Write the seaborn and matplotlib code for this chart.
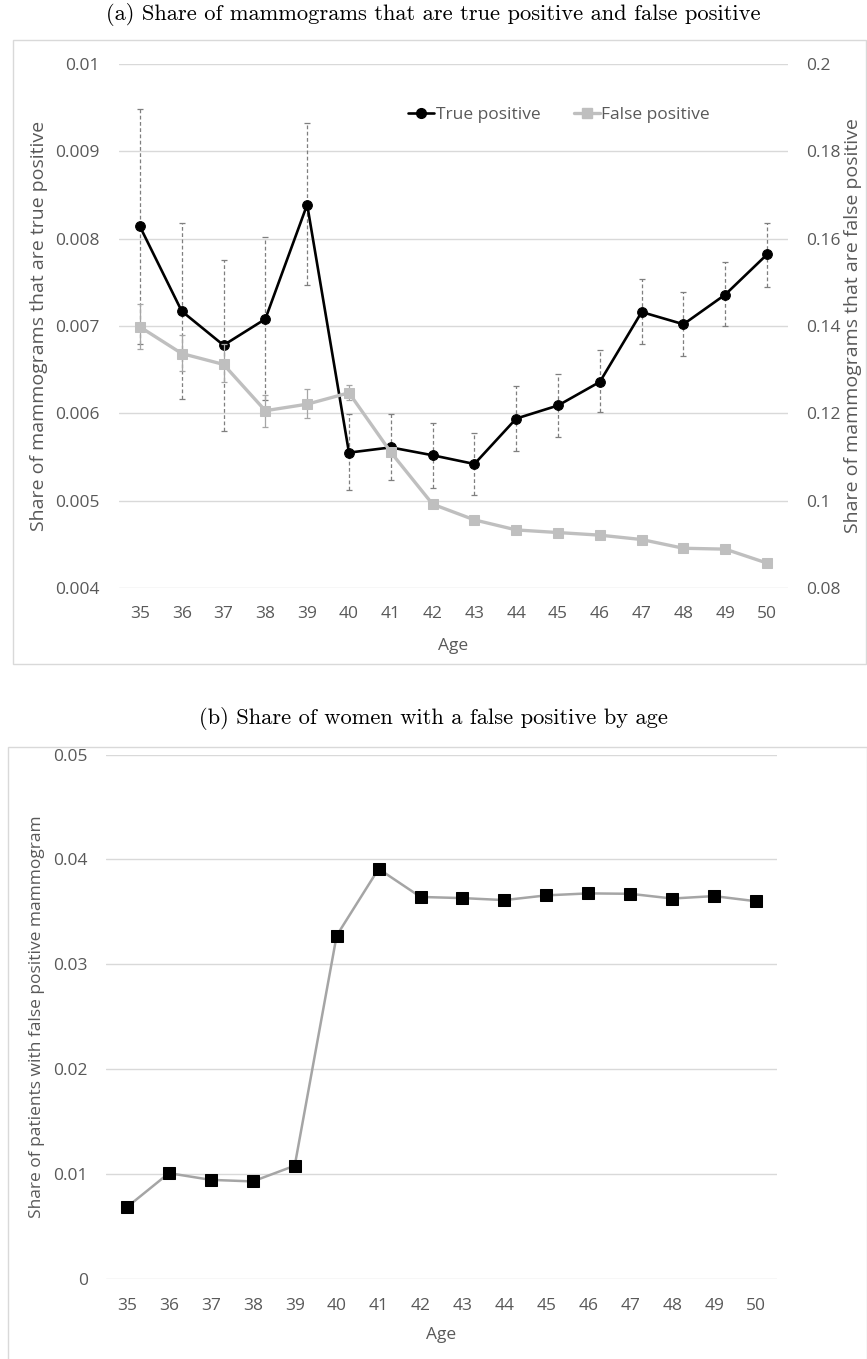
import numpy as np
import pandas as pd
import matplotlib
matplotlib.use("Agg")
import matplotlib.pyplot as plt
import seaborn as sns
from matplotlib.lines import Line2D
from matplotlib.patches import Rectangle
from matplotlib.ticker import FixedLocator, FixedFormatter

# ---------------- data ----------------
ages = list(range(35, 51))
true_pos = [0.00814, 0.00717, 0.00678, 0.00708, 0.00839, 0.00555, 0.00561, 0.00552,
            0.00542, 0.00594, 0.00609, 0.00636, 0.00716, 0.00702, 0.00736, 0.00782]
tp_upper = [0.00948, 0.00818, 0.00776, 0.00802, 0.00932, 0.00599, 0.00599, 0.00589,
            0.00578, 0.00631, 0.00645, 0.00673, 0.00754, 0.00739, 0.00773, 0.00818]
tp_lower = [0.00679, 0.00616, 0.00580, 0.00615, 0.00747, 0.00512, 0.00524, 0.00515,
            0.00507, 0.00557, 0.00573, 0.00601, 0.00679, 0.00666, 0.00700, 0.00745]
false_pos = [0.1398, 0.1337, 0.1312, 0.1206, 0.1221, 0.1247, 0.1111, 0.0992,
             0.0956, 0.0933, 0.0927, 0.0921, 0.0911, 0.0891, 0.0889, 0.0857]
fp_upper = [0.1450, 0.1379, 0.1358, 0.1242, 0.1255, 0.1266, 0.1120, 0.1000,
            0.0963, 0.0939, 0.0933, 0.0927, 0.0917, 0.0897, 0.0895, 0.0863]
fp_lower = [0.1347, 0.1298, 0.1272, 0.1169, 0.1189, 0.1230, 0.1102, 0.0984,
            0.0949, 0.0927, 0.0921, 0.0915, 0.0905, 0.0885, 0.0883, 0.0851]
share_women_fp = [0.00683, 0.01007, 0.00943, 0.00928, 0.01078, 0.03273, 0.03910, 0.03642,
                  0.03631, 0.03612, 0.03657, 0.03676, 0.03672, 0.03627, 0.03650, 0.03601]

left_ticks = [0.004, 0.005, 0.006, 0.007, 0.008, 0.009, 0.01]
left_labels = ["0.004", "0.005", "0.006", "0.007", "0.008", "0.009", "0.01"]
right_ticks = [0.08, 0.10, 0.12, 0.14, 0.16, 0.18, 0.20]
right_labels = ["0.08", "0.1", "0.12", "0.14", "0.16", "0.18", "0.2"]
bottom_ticks = [0.0, 0.01, 0.02, 0.03, 0.04, 0.05]
bottom_labels = ["0", "0.01", "0.02", "0.03", "0.04", "0.05"]

title_a = "(a) Share of mammograms that are true positive and false positive"
title_b = "(b) Share of women with a false positive by age"

# ---------------- style ----------------
sns.set_theme(style="white")
plt.rcParams["font.family"] = ["Open Sans", "DejaVu Sans"]
TXT = "#595959"
GRID = "#d9d9d9"
FS = 12.5
FS_LAB_A = 14

df_top = pd.DataFrame({"age": ages, "tp": true_pos, "fp": false_pos})
df_bot = pd.DataFrame({"age": ages, "share": share_women_fp})

fig = plt.figure(figsize=(8.67, 13.59), dpi=100)

# frames around each panel (figure coordinates)
W, H = 867.0, 1359.0
fig.patches.append(Rectangle((12.7 / W, 1 - 664.3 / H), (866 - 12.7) / W, (664.3 - 40.3) / H,
                             transform=fig.transFigure, fill=False, edgecolor=GRID, lw=1.0))
fig.patches.append(Rectangle((8 / W, -0.01), (866.5 - 8) / W, 0.01 + 1 - 747.5 / H,
                             transform=fig.transFigure, fill=False, edgecolor=GRID, lw=1.0))

fig.text(0.5, 1 - 14 / H, title_a, family="cmr10", ha="center", va="center", fontsize=16.2, color="black")
fig.text(0.5, 1 - 718 / H, title_b, family="cmr10", ha="center", va="center", fontsize=16.2, color="black")


def style_axis(a, fs):
    for s in a.spines.values():
        s.set_visible(False)
    a.tick_params(axis="both", length=0, labelsize=fs, labelcolor=TXT)


# ---------------- panel (a) ----------------
ax = fig.add_axes([119 / W, 1 - 588 / H, (788 - 119) / W, (588 - 64) / H])
ax2 = ax.twinx()

ax.set_axisbelow(True)
ax.yaxis.grid(True, color=GRID, lw=1.0)
ax.xaxis.grid(False)

tp_err = np.array([np.array(true_pos) - np.array(tp_lower), np.array(tp_upper) - np.array(true_pos)])
eb = ax.errorbar(ages, true_pos, yerr=tp_err, fmt="none", ecolor="#7f7f7f", elinewidth=0.9,
                 capsize=2, capthick=0.9, zorder=2)
eb[2][0].set_linestyle((0, (3, 2)))
sns.lineplot(data=df_top, x="age", y="tp", ax=ax, color="black", lw=1.9, marker="o",
             markersize=7, markeredgecolor="black", zorder=3)

fp_err = np.array([np.array(false_pos) - np.array(fp_lower), np.array(fp_upper) - np.array(false_pos)])
ax2.errorbar(ages, false_pos, yerr=fp_err, fmt="none", ecolor="#a6a6a6", elinewidth=0.9,
             capsize=2, capthick=0.9, zorder=2)
sns.lineplot(data=df_top, x="age", y="fp", ax=ax2, color="#bfbfbf", lw=2.4, marker="s",
             markersize=7, markeredgecolor="#bfbfbf", zorder=3)

ax.set_xlim(34.5, 50.5)
ax.set_ylim(0.004, 0.01)
ax2.set_ylim(0.08, 0.20)
ax.set_xticks(ages)
ax.set_xticklabels([str(a) for a in ages])
ax.yaxis.set_major_locator(FixedLocator(left_ticks))
ax.yaxis.set_major_formatter(FixedFormatter(left_labels))
ax2.yaxis.set_major_locator(FixedLocator(right_ticks))
ax2.yaxis.set_major_formatter(FixedFormatter(right_labels))
style_axis(ax, FS)
style_axis(ax2, FS)
ax.tick_params(axis="y", pad=14)
ax.tick_params(axis="x", pad=13)
ax2.tick_params(axis="y", pad=13)
ax2.grid(False)

ax.set_xlabel("Age", fontsize=FS, color=TXT)
ax.xaxis.set_label_coords(0.5, -0.095)
ax.set_ylabel("Share of mammograms that are true positive", fontsize=FS_LAB_A, color=TXT, va="center")
ax.yaxis.set_label_coords(-0.12, 0.5)
ax2.set_ylabel("Share of mammograms that are false positive", fontsize=FS_LAB_A, color=TXT, va="center",
               rotation=90)
ax2.yaxis.set_label_coords(1.097, 0.5)

handles = [Line2D([], [], color="black", lw=1.9, marker="o", markersize=7),
           Line2D([], [], color="#bfbfbf", lw=2.4, marker="s", markersize=7)]
leg = ax2.legend(handles, ["True positive", "False positive"], loc="center",
                 bbox_to_anchor=(0.658, 0.903), ncol=2, frameon=False, handlelength=1.5,
                 handletextpad=0.1, columnspacing=1.9, fontsize=FS)
for t in leg.get_texts():
    t.set_color(TXT)

# ---------------- panel (b) ----------------
B_TOP, B_BOT = 754.6, 1278.7
bx = fig.add_axes([106 / W, 1 - B_BOT / H, (777 - 106) / W, (B_BOT - B_TOP) / H])
bx.set_axisbelow(True)
bx.yaxis.grid(True, color=GRID, lw=1.0)
bx.xaxis.grid(False)
sns.lineplot(data=df_bot, x="age", y="share", ax=bx, color="#a5a5a5", lw=1.8, marker="s",
             markersize=8, markerfacecolor="black", markeredgecolor="black", zorder=3)
bx.set_xlim(34.5, 50.5)
bx.set_ylim(0, 0.05)
bx.set_xticks(ages)
bx.set_xticklabels([str(a) for a in ages])
bx.yaxis.set_major_locator(FixedLocator(bottom_ticks))
bx.yaxis.set_major_formatter(FixedFormatter(bottom_labels))
style_axis(bx, FS)
bx.tick_params(axis="y", pad=13)
bx.tick_params(axis="x", pad=14)
bx.set_xlabel("Age", fontsize=FS, color=TXT)
bx.xaxis.set_label_coords(0.5, -0.093)
bx.set_ylabel("Share of patients with false positive mammogram", fontsize=FS, color=TXT, va="center")
bx.yaxis.set_label_coords(-0.103, 0.5)

fig.savefig("out.png", dpi=100)
